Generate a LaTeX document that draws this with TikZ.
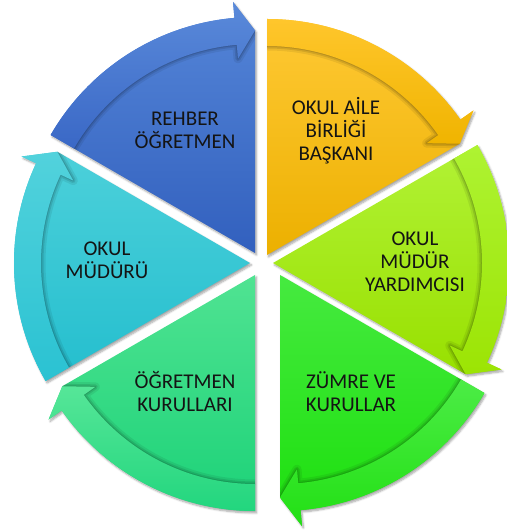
\documentclass[tikz,border=0pt]{standalone}
\usepackage{fontspec}
\setmainfont{Carlito}
\usetikzlibrary{shadows.blur}
\definecolor{blueT}{HTML}{5586D8}\definecolor{blueB}{HTML}{3260BE}
\definecolor{blueBT}{HTML}{5A8ADA}\definecolor{blueBB}{HTML}{3A68C6}
\definecolor{orT}{HTML}{FFC935}\definecolor{orB}{HTML}{ECB000}
\definecolor{orBT}{HTML}{FFC62C}\definecolor{orBB}{HTML}{F0B400}
\definecolor{ygT}{HTML}{B2F236}\definecolor{ygB}{HTML}{98E000}
\definecolor{ygBT}{HTML}{AEF332}\definecolor{ygBB}{HTML}{9CE404}
\definecolor{grT}{HTML}{46EA40}\definecolor{grB}{HTML}{1BDF0C}
\definecolor{grBT}{HTML}{4CEC46}\definecolor{grBB}{HTML}{22E014}
\definecolor{seT}{HTML}{50E392}\definecolor{seB}{HTML}{1CD278}
\definecolor{seBT}{HTML}{56E698}\definecolor{seBB}{HTML}{22D67E}
\definecolor{teT}{HTML}{4CD0DA}\definecolor{teB}{HTML}{24BECE}
\definecolor{teBT}{HTML}{52D2DC}\definecolor{teBB}{HTML}{2AC2D2}
\def\Rout{236}\def\Rin{209}\def\Rho{252}\def\Rhi{195}\def\Rmid{222.5}
% #1 ax, #2 ay, #3 start angle, #4/#5 body colours, #6/#7 band colours
\newcommand\drawseg[7]{%
 \begin{scope}[shift={(#1,#2)}]
  \pgfmathsetmacro\eA{#3-60}\pgfmathsetmacro\bA{#3-55}
  \path[segshadow, top color=#4, bottom color=#5]
   (0,0) -- (#3:\Rout pt) arc[start angle=#3, end angle=\bA, radius=\Rout pt]
   -- (\bA:\Rho pt) -- (\eA:\Rmid pt) -- cycle;
  \begin{scope}
   \clip (0,0) -- (#3:\Rout pt) arc[start angle=#3, end angle=\bA, radius=\Rout pt]
   -- (\bA:\Rho pt) -- (\eA:\Rmid pt) -- cycle;
   \draw[black, opacity=0.07, line width=9pt, line join=round]
    (#3:\Rin pt) arc[start angle=#3, end angle=\bA, radius=\Rin pt] -- (\bA:\Rhi pt) -- (\eA:\Rmid pt);
   \draw[black, opacity=0.10, line width=5pt, line join=round]
    (#3:\Rin pt) arc[start angle=#3, end angle=\bA, radius=\Rin pt] -- (\bA:\Rhi pt) -- (\eA:\Rmid pt);
   \draw[black, opacity=0.12, line width=2pt, line join=round]
    (#3:\Rin pt) arc[start angle=#3, end angle=\bA, radius=\Rin pt] -- (\bA:\Rhi pt) -- (\eA:\Rmid pt);
  \end{scope}
  \path[top color=#6, bottom color=#7]
   (#3:\Rout pt) arc[start angle=#3, end angle=\bA, radius=\Rout pt]
   -- (\bA:\Rho pt) -- (\eA:\Rmid pt) -- (\bA:\Rhi pt) -- (\bA:\Rin pt)
   arc[start angle=\bA, end angle=#3, radius=\Rin pt] -- cycle;
 \end{scope}}
\begin{document}
\begin{tikzpicture}[x=1pt,y=1pt,
  segshadow/.style={blur shadow={shadow xshift=1.5pt, shadow yshift=-2pt, shadow blur steps=6, shadow opacity=35}},
  lbl/.style={font=\fontsize{21}{23}\selectfont, align=center, text=black!92, inner sep=0pt}]
\useasboundingbox (0,0) rectangle (506,532);
\drawseg{255}{279}{150}{blueT}{blueB}{blueBT}{blueBB}
\drawseg{267}{277}{90}{orT}{orB}{orBT}{orBB}
\drawseg{273}{269}{30}{ygT}{ygB}{ygBT}{ygBB}
\drawseg{280}{257}{-30}{grT}{grB}{grBT}{grBB}
\drawseg{255}{257}{-90}{seT}{seB}{seBT}{seBB}
\drawseg{250}{269}{210}{teT}{teB}{teBT}{teBB}
\node[lbl] (rehber) at (185,402) {REHBER\\ÖĞRETMEN};
\node[lbl] (aile) at (336,401) {OKUL AİLE\\BİRLİĞİ\\BAŞKANI};
\node[lbl] (yard) at (415,270.5) {OKUL\\MÜDÜR\\YARDIMCISI};
\node[lbl] (zumre) at (351,140) {ZÜMRE VE\\KURULLAR};
\node[lbl] (ogrkur) at (185,140) {ÖĞRETMEN\\KURULLARI};
\node[lbl] (mudur) at (107,271.5) {OKUL\\MÜDÜRÜ};
\end{tikzpicture}
\end{document}
